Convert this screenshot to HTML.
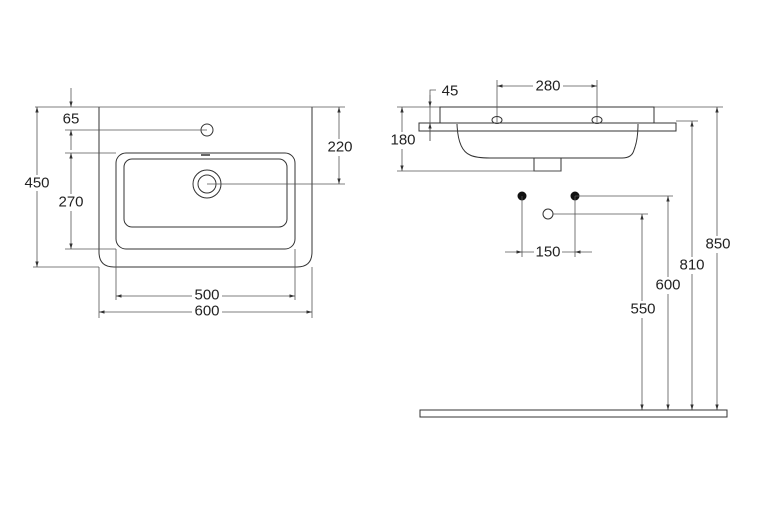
<!DOCTYPE html>
<html><head><meta charset="utf-8"><style>
html,body{margin:0;padding:0;background:#fff}
svg{display:block}
text{font-family:"Liberation Sans Narrow","Liberation Sans",sans-serif;font-size:15px;fill:#222;text-anchor:middle;dominant-baseline:central}
.l{stroke:#333;stroke-width:1;fill:none}
.t{stroke:#555;stroke-width:0.8;fill:none}
.bg{fill:#fff}
</style></head><body>
<svg width="783" height="505" viewBox="0 0 783 505" xmlns="http://www.w3.org/2000/svg">
<defs>
<marker id="a" viewBox="0 0 10 10" refX="10" refY="5" markerWidth="7" markerHeight="7" orient="auto-start-reverse"><path d="M0,2 L10,5 L0,8 z" fill="#333"/></marker>
</defs>
<!-- LEFT top view -->
<path class="l" d="M99,107 V252 Q99,267 114,267 H297 Q312,267 312,252 V107"/>
<line class="t" x1="35" y1="107" x2="345" y2="107"/>
<line class="t" x1="33" y1="267" x2="99" y2="267"/>
<rect class="l" x="116" y="153" width="179" height="96" rx="10"/>
<rect class="l" x="124" y="159" width="163" height="68" rx="8"/>
<circle class="l" cx="207" cy="130" r="6"/>
<line class="t" x1="65" y1="130" x2="207" y2="130"/>
<circle class="l" cx="207" cy="184" r="14"/>
<circle class="l" cx="207" cy="184" r="9"/>
<line class="t" x1="207" y1="184" x2="345" y2="184"/>
<rect x="201" y="154" width="9" height="2" fill="#666"/>
<line class="t" x1="65" y1="153" x2="116" y2="153"/>
<line class="t" x1="65" y1="249" x2="116" y2="249"/>
<!-- 450 -->
<line class="t" x1="37" y1="107" x2="37" y2="267" marker-start="url(#a)" marker-end="url(#a)"/>
<rect class="bg" x="24" y="175" width="26" height="16"/><text x="37" y="183">450</text>
<!-- 65 -->
<line class="t" x1="71" y1="88" x2="71" y2="107" marker-end="url(#a)"/>
<line class="t" x1="71" y1="150" x2="71" y2="130" marker-end="url(#a)"/>
<text x="71" y="119">65</text>
<!-- 270 -->
<line class="t" x1="71" y1="153" x2="71" y2="249" marker-start="url(#a)" marker-end="url(#a)"/>
<rect class="bg" x="57" y="194" width="28" height="17"/><text x="71" y="202">270</text>
<!-- 220 -->
<line class="t" x1="339" y1="107" x2="339" y2="184" marker-start="url(#a)" marker-end="url(#a)"/>
<rect class="bg" x="326" y="139" width="28" height="17"/><text x="340" y="147">220</text>
<!-- 500 / 600 -->
<line class="t" x1="116" y1="249" x2="116" y2="300"/>
<line class="t" x1="295" y1="249" x2="295" y2="300"/>
<line class="t" x1="99" y1="267" x2="99" y2="318"/>
<line class="t" x1="312" y1="267" x2="312" y2="318"/>
<line class="t" x1="116" y1="296" x2="295" y2="296" marker-start="url(#a)" marker-end="url(#a)"/>
<rect class="bg" x="192" y="288" width="30" height="16"/><text x="207" y="295">500</text>
<line class="t" x1="99" y1="312" x2="312" y2="312" marker-start="url(#a)" marker-end="url(#a)"/>
<rect class="bg" x="192" y="304" width="30" height="16"/><text x="207" y="311">600</text>

<!-- RIGHT side view -->
<line class="t" x1="397" y1="107" x2="723" y2="107"/>
<path class="l" d="M440,123 V107 H654 V123"/>
<rect class="l" x="419" y="123" width="257" height="8"/>
<path class="l" d="M457,124 Q458,150 470,155 Q476,158 490,158 H622 Q632,158 634,150 Q638,140 638,124"/>
<line class="l" x1="507" y1="158" x2="589" y2="158"/>
<path class="l" d="M534,158 V171 H561 V158"/>
<line class="t" x1="397" y1="171" x2="561" y2="171"/>
<!-- 180 -->
<line class="t" x1="402" y1="107" x2="402" y2="171" marker-start="url(#a)" marker-end="url(#a)"/>
<rect class="bg" x="389" y="132" width="28" height="17"/><text x="403" y="140">180</text>
<!-- 45 -->
<path class="t" d="M436,90 H430 V141"/>
<line class="t" x1="430" y1="95" x2="430" y2="107" marker-end="url(#a)"/>
<line class="t" x1="430" y1="141" x2="430" y2="123" marker-end="url(#a)"/>
<text x="450" y="91">45</text>
<!-- 280 -->
<line class="t" x1="497" y1="80" x2="497" y2="122"/>
<line class="t" x1="597" y1="80" x2="597" y2="122"/>
<line class="t" x1="497" y1="86" x2="597" y2="86" marker-start="url(#a)" marker-end="url(#a)"/>
<rect class="bg" x="533" y="78" width="30" height="16"/><text x="548" y="86">280</text>
<ellipse class="l" cx="497" cy="120" rx="5" ry="3.5"/>
<ellipse class="l" cx="597" cy="120" rx="5" ry="3.5"/>
<line class="t" x1="676" y1="121" x2="698" y2="121"/>
<!-- dots -->
<circle cx="522" cy="196" r="4.5" fill="#111"/>
<circle cx="575" cy="196" r="4.5" fill="#111"/>
<circle class="l" cx="548" cy="214" r="5"/>
<line class="t" x1="522" y1="196" x2="522" y2="257"/>
<line class="t" x1="575" y1="196" x2="575" y2="257"/>
<line class="t" x1="575" y1="196" x2="673" y2="196"/>
<line class="t" x1="553" y1="214" x2="648" y2="214"/>
<line class="t" x1="505" y1="252" x2="522" y2="252" marker-end="url(#a)"/>
<line class="t" x1="592" y1="252" x2="575" y2="252" marker-end="url(#a)"/>
<line class="t" x1="522" y1="252" x2="575" y2="252"/>
<rect class="bg" x="534" y="244" width="28" height="16"/><text x="548" y="252">150</text>
<!-- verticals -->
<line class="t" x1="642" y1="214" x2="642" y2="410" marker-start="url(#a)" marker-end="url(#a)"/>
<line class="t" x1="668" y1="196" x2="668" y2="410" marker-start="url(#a)" marker-end="url(#a)"/>
<line class="t" x1="692" y1="121" x2="692" y2="410" marker-start="url(#a)" marker-end="url(#a)"/>
<line class="t" x1="717" y1="107" x2="717" y2="410" marker-start="url(#a)" marker-end="url(#a)"/>
<rect class="bg" x="629" y="301" width="28" height="17"/><text x="643" y="309">550</text>
<rect class="bg" x="654" y="277" width="28" height="17"/><text x="668" y="285">600</text>
<rect class="bg" x="678" y="257" width="28" height="17"/><text x="692" y="265">810</text>
<rect class="bg" x="704" y="236" width="28" height="17"/><text x="718" y="244">850</text>
<rect x="420" y="410" width="307" height="7" fill="#fff" stroke="#333" stroke-width="1"/>
</svg>
</body></html>
